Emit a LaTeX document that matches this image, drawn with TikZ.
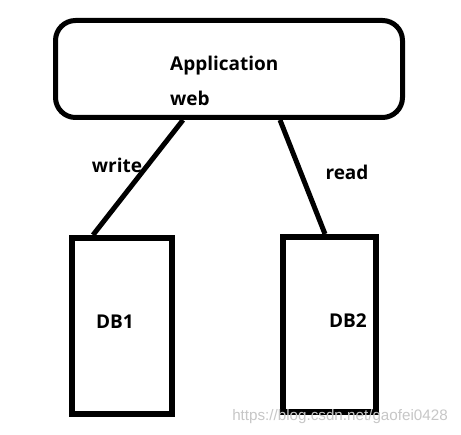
\documentclass[tikz,border=0pt]{standalone}
\usepackage{fontspec}
\setmainfont{Open Sans}
\newfontfamily\wmfont{Liberation Sans}
\begin{document}
\begin{tikzpicture}[x=1pt,y=-1pt,
  appbox/.style={draw=black,line width=5pt,rounded corners=20pt,minimum width=347pt,minimum height=97pt,inner sep=0pt},
  dbbox/.style={draw=black,line width=6pt,inner sep=0pt},
  lbl/.style={font=\fontsize{19}{21}\selectfont\bfseries,inner sep=0pt,text=black},
  conn/.style={line width=5pt,black}]
\useasboundingbox[fill=white] (0,0) rectangle (461,435);
\node[appbox] (app) at (229,69) {};
\node[lbl,anchor=west] (apptxt) at (170,66) {Application};
\node[lbl,anchor=west] (webtxt) at (170,98) {web};
\node[dbbox,minimum width=100pt,minimum height=176pt] (db1) at (122,326) {};
\node[dbbox,minimum width=93pt,minimum height=175pt] (db2) at (329.5,324.5) {};
\node[lbl] (db1txt) at (115,322) {DB1};
\node[lbl] (db2txt) at (348,321) {DB2};
\draw[conn] ([xshift=-46pt]app.south) -- ([xshift=-29pt]db1.north);
\draw[conn] ([xshift=51pt]app.south) -- ([xshift=-4.5pt]db2.north);
\node[lbl] (write) at (117,165) {write};
\node[lbl] (read) at (347,172) {read};
\node[font=\wmfont\fontsize{15.2}{17}\selectfont,text=black!22,inner sep=0pt] (wm) at (340,417) {https://blog.csdn.net/gaofei0428};
\end{tikzpicture}
\end{document}
